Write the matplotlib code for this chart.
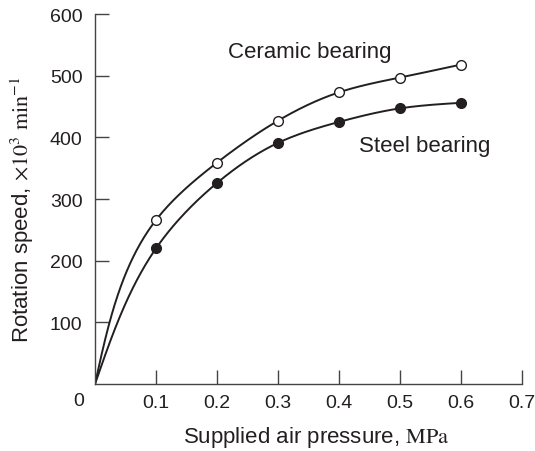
import numpy as np
import matplotlib
matplotlib.use("Agg")
import matplotlib.pyplot as plt

plt.rcParams["font.family"] = ["Liberation Sans", "DejaVu Sans"]
plt.rcParams["mathtext.fontset"] = "stix"

# Measured rotation speed (x10^3 min^-1) vs supplied air pressure (MPa)
pressure = [0.1, 0.2, 0.3, 0.4, 0.5, 0.6]
ceramic = [266, 359, 427, 473, 497, 518]
steel = [220, 326, 391, 425, 447, 456]

ink = "#231f20"


def natural_spline(t, v, ts):
    m = len(t)
    h = np.diff(t)
    delta = np.diff(v) / h
    A = np.zeros((m, m))
    r = np.zeros(m)
    A[0, 0] = A[-1, -1] = 1.0
    for i in range(1, m - 1):
        A[i, i - 1] = h[i - 1]
        A[i, i] = 2 * (h[i - 1] + h[i])
        A[i, i + 1] = h[i]
        r[i] = 6 * (delta[i] - delta[i - 1])
    M = np.linalg.solve(A, r)
    i = np.clip(np.searchsorted(t, ts) - 1, 0, m - 2)
    hi = h[i]
    a = t[i + 1] - ts
    b = ts - t[i]
    return (M[i] * a ** 3 / (6 * hi) + M[i + 1] * b ** 3 / (6 * hi)
            + (v[i] / hi - M[i] * hi / 6) * a + (v[i + 1] / hi - M[i + 1] * hi / 6) * b)


def smooth_curve(x, y, sx=610.0, sy=0.6133, n=500):
    # parametric spline from the origin through the points,
    # parameterised by chord length on the page
    x = np.concatenate([[0.0], np.asarray(x, float)])
    y = np.concatenate([[0.0], np.asarray(y, float)])
    seg = np.hypot(np.diff(x) * sx, np.diff(y) * sy)
    t = np.concatenate([[0.0], np.cumsum(seg)])
    ts = np.linspace(0, t[-1], n)
    return natural_spline(t, x, ts), natural_spline(t, y, ts)


fig = plt.figure(figsize=(5.35, 4.52), dpi=100)
ax = fig.add_axes([0.1776, 0.1482, 0.7981, 0.8186])

for vals, face in [(ceramic, "white"), (steel, ink)]:
    xs, ys = smooth_curve(pressure, vals)
    ax.plot(xs, ys, color=ink, lw=1.4, zorder=2)
    ax.plot(pressure, vals, "o", ms=7, mfc=face, mec=ink, mew=1.0, zorder=3)

ax.text(0.352, 540, "Ceramic bearing", ha="center", va="center", fontsize=16, color=ink)
ax.text(0.433, 386, "Steel bearing", ha="left", va="center", fontsize=16, color=ink)

ax.set_xlim(0, 0.7)
ax.set_ylim(0, 600)
ax.set_xticks([0.1, 0.2, 0.3, 0.4, 0.5, 0.6, 0.7])
ax.set_xticklabels(["0.1", "0.2", "0.3", "0.4", "0.5", "0.6", "0.7"])
ax.set_yticks([100, 200, 300, 400, 500, 600])
fig.text(79 / 535, 1 - 402 / 452, "0", ha="center", va="center", fontsize=14, color=ink)

ax.tick_params(axis="both", direction="in", length=10, width=1.0, color="#444444",
               labelsize=14, labelcolor=ink)
ax.tick_params(axis="x", pad=7)
ax.tick_params(axis="y", pad=9)

for side in ["top", "right"]:
    ax.spines[side].set_visible(False)
for side in ["left", "bottom"]:
    ax.spines[side].set_color("#444444")
    ax.spines[side].set_linewidth(1.0)

fig.text(316 / 535, 1 - 438 / 452, r"Supplied air pressure, $\mathrm{MPa}$",
         ha="center", va="center", fontsize=16, color=ink)
fig.text(22 / 535, 1 - 210 / 452, r"Rotation speed, $\times\mathrm{10^3\ min^{-1}}$",
         ha="center", va="center", rotation=90, fontsize=16, color=ink)

fig.savefig("out.png", dpi=100)
